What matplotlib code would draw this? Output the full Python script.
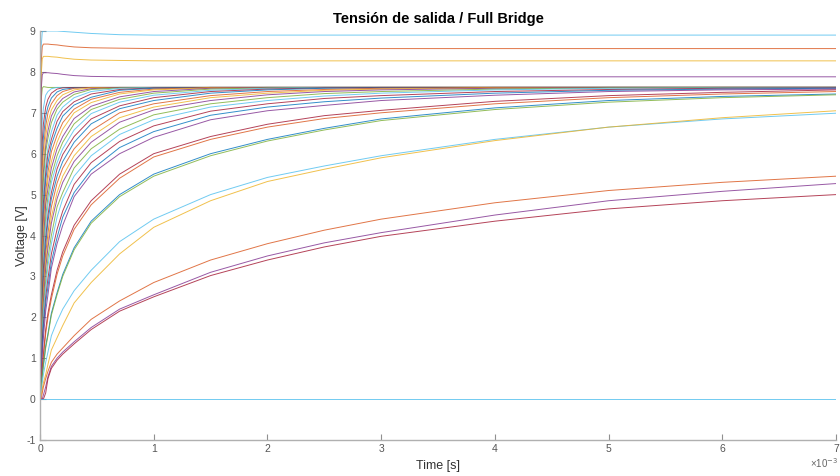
import numpy as np
import matplotlib
matplotlib.use("Agg")
import matplotlib.pyplot as plt

plt.rcParams['font.family'] = ['Liberation Sans', 'DejaVu Sans']
plt.rcParams['axes.unicode_minus'] = False

# MATLAB default colour order
C = ['#0072BD', '#D95319', '#EDB120', '#7E2F8E', '#77AC30', '#4DBEEE', '#A2142F']

# time samples (ms) shared by every trace
t_ms = [0, 0.01, 0.02, 0.03, 0.05, 0.07, 0.1, 0.15, 0.2, 0.3, 0.45, 0.7,
        1.0, 1.5, 2.0, 2.5, 3.0, 4.0, 5.0, 6.0, 7.0]

# the four traces that settle above the 7.6 V plateau
top_blue = [0, 8.60, 8.98, 9.00, 9.00, 9.00, 9.00, 9.00, 8.99, 8.97, 8.94, 8.91, 8.90, 8.90, 8.90, 8.90, 8.90, 8.90, 8.90, 8.90, 8.90]
top_orange = [0, 8.20, 8.62, 8.68, 8.68, 8.68, 8.67, 8.66, 8.64, 8.61, 8.59, 8.58, 8.57, 8.57, 8.57, 8.57, 8.57, 8.57, 8.57, 8.57, 8.57]
top_yellow = [0, 7.90, 8.32, 8.38, 8.38, 8.38, 8.37, 8.36, 8.34, 8.31, 8.29, 8.28, 8.27, 8.27, 8.27, 8.27, 8.27, 8.27, 8.27, 8.27, 8.27]
top_purple = [0, 7.55, 7.93, 7.98, 7.98, 7.98, 7.97, 7.96, 7.94, 7.91, 7.89, 7.88, 7.88, 7.88, 7.88, 7.88, 7.88, 7.88, 7.88, 7.88, 7.88]

# fast traces that all converge on ~7.62 V (fastest first)
fast_curves = [
    [0, 7.30, 7.60, 7.64, 7.63, 7.62, 7.62, 7.62, 7.62, 7.62, 7.62, 7.62, 7.62, 7.62, 7.62, 7.62, 7.62, 7.62, 7.62, 7.62, 7.62],
    [0, 6.05, 6.80, 7.12, 7.43, 7.52, 7.59, 7.62, 7.62, 7.62, 7.62, 7.62, 7.62, 7.62, 7.62, 7.62, 7.62, 7.62, 7.62, 7.62, 7.62],
    [0, 5.45, 6.30, 6.73, 7.14, 7.33, 7.48, 7.58, 7.61, 7.62, 7.62, 7.62, 7.62, 7.62, 7.62, 7.62, 7.62, 7.62, 7.62, 7.62, 7.62],
    [0, 5.00, 5.90, 6.40, 6.92, 7.15, 7.36, 7.51, 7.57, 7.61, 7.62, 7.62, 7.62, 7.62, 7.62, 7.62, 7.62, 7.62, 7.62, 7.62, 7.62],
    [0, 4.60, 5.65, 6.12, 6.67, 7.00, 7.22, 7.42, 7.52, 7.60, 7.62, 7.62, 7.62, 7.62, 7.62, 7.62, 7.62, 7.62, 7.62, 7.62, 7.62],
    [0, 4.30, 5.28, 5.80, 6.42, 6.77, 7.07, 7.30, 7.44, 7.56, 7.61, 7.62, 7.62, 7.62, 7.62, 7.62, 7.62, 7.62, 7.62, 7.62, 7.62],
    [0, 3.90, 5.00, 5.55, 6.18, 6.56, 6.92, 7.19, 7.35, 7.51, 7.59, 7.62, 7.62, 7.62, 7.62, 7.62, 7.62, 7.62, 7.62, 7.62, 7.62],
    [0, 3.65, 4.75, 5.35, 6.05, 6.38, 6.76, 7.09, 7.26, 7.45, 7.57, 7.61, 7.62, 7.62, 7.62, 7.62, 7.62, 7.62, 7.62, 7.62, 7.62],
    [0, 3.35, 4.45, 5.05, 5.72, 6.14, 6.54, 6.94, 7.14, 7.37, 7.52, 7.60, 7.62, 7.62, 7.62, 7.62, 7.62, 7.62, 7.62, 7.62, 7.62],
    [0, 3.10, 4.15, 4.80, 5.52, 6.00, 6.35, 6.79, 7.03, 7.27, 7.46, 7.57, 7.61, 7.62, 7.62, 7.62, 7.62, 7.62, 7.62, 7.62, 7.62],
    [0, 2.85, 3.90, 4.55, 5.35, 5.77, 6.22, 6.62, 6.92, 7.19, 7.38, 7.55, 7.60, 7.62, 7.62, 7.62, 7.62, 7.62, 7.62, 7.62, 7.62],
    [0, 2.55, 3.65, 4.35, 5.05, 5.55, 6.05, 6.45, 6.76, 7.09, 7.33, 7.50, 7.58, 7.62, 7.62, 7.62, 7.62, 7.62, 7.62, 7.62, 7.62],
    [0, 2.40, 3.45, 4.05, 4.85, 5.37, 5.81, 6.28, 6.60, 7.00, 7.25, 7.46, 7.56, 7.61, 7.62, 7.62, 7.62, 7.62, 7.62, 7.62, 7.62],
    [0, 2.25, 3.20, 3.85, 4.75, 5.15, 5.65, 6.12, 6.42, 6.86, 7.16, 7.39, 7.52, 7.60, 7.62, 7.62, 7.62, 7.62, 7.62, 7.62, 7.62],
    [0, 2.15, 2.95, 3.60, 4.45, 4.95, 5.45, 5.95, 6.28, 6.73, 7.08, 7.33, 7.48, 7.58, 7.61, 7.62, 7.62, 7.62, 7.62, 7.62, 7.62],
    [0, 1.95, 2.75, 3.40, 4.25, 4.75, 5.30, 5.78, 6.12, 6.58, 6.98, 7.26, 7.43, 7.55, 7.60, 7.62, 7.62, 7.62, 7.62, 7.62, 7.62],
    [0, 1.80, 2.55, 3.20, 3.95, 4.50, 5.05, 5.63, 5.98, 6.42, 6.85, 7.17, 7.37, 7.52, 7.58, 7.61, 7.62, 7.62, 7.62, 7.62, 7.62],
    [0, 1.60, 2.40, 2.95, 3.75, 4.35, 4.90, 5.45, 5.81, 6.28, 6.73, 7.10, 7.30, 7.48, 7.56, 7.60, 7.61, 7.62, 7.62, 7.62, 7.62],
    [0, 1.45, 2.25, 2.75, 3.55, 4.05, 4.70, 5.28, 5.65, 6.12, 6.56, 7.00, 7.22, 7.42, 7.52, 7.57, 7.60, 7.62, 7.62, 7.62, 7.62],
    [0, 1.30, 2.15, 2.55, 3.35, 3.85, 4.45, 5.05, 5.45, 5.95, 6.42, 6.88, 7.14, 7.37, 7.48, 7.55, 7.58, 7.61, 7.62, 7.62, 7.62],
    [0, 1.15, 1.95, 2.40, 3.20, 3.70, 4.30, 4.90, 5.30, 5.81, 6.28, 6.77, 7.07, 7.30, 7.44, 7.52, 7.56, 7.60, 7.62, 7.62, 7.62],
    [0, 1.00, 1.75, 2.25, 2.90, 3.45, 4.00, 4.70, 5.05, 5.65, 6.12, 6.60, 6.95, 7.22, 7.37, 7.47, 7.52, 7.58, 7.61, 7.62, 7.62],
    [0, 0.85, 1.60, 2.15, 2.70, 3.25, 3.80, 4.45, 4.90, 5.45, 5.95, 6.47, 6.83, 7.14, 7.30, 7.41, 7.48, 7.56, 7.60, 7.61, 7.62],
    [0, 0.80, 1.45, 1.85, 2.50, 2.95, 3.55, 4.15, 4.60, 5.25, 5.78, 6.30, 6.68, 7.04, 7.22, 7.35, 7.42, 7.52, 7.57, 7.60, 7.61],
    [0, 0.70, 1.25, 1.75, 2.35, 2.75, 3.35, 3.95, 4.45, 5.05, 5.60, 6.15, 6.54, 6.94, 7.14, 7.27, 7.36, 7.48, 7.55, 7.58, 7.60],
]

# slower traces, read one by one
slow_purple = [0, 0.60, 1.10, 1.50, 2.15, 2.55, 3.20, 3.80, 4.25, 4.95, 5.50, 6.00, 6.40, 6.83, 7.05, 7.18, 7.30, 7.43, 7.52, 7.56, 7.58]
slow_red = [0, 0.45, 0.80, 1.10, 1.70, 2.10, 2.55, 3.15, 3.60, 4.25, 4.85, 5.50, 6.00, 6.42, 6.72, 6.93, 7.06, 7.28, 7.42, 7.50, 7.56]
slow_orange = [0, 0.40, 0.75, 1.05, 1.60, 2.00, 2.45, 3.05, 3.50, 4.15, 4.75, 5.40, 5.92, 6.35, 6.65, 6.86, 7.00, 7.22, 7.37, 7.46, 7.52]
slow_blue = [0, 0.35, 0.60, 0.85, 1.30, 1.60, 2.10, 2.60, 3.05, 3.70, 4.35, 5.00, 5.50, 6.00, 6.35, 6.62, 6.85, 7.12, 7.30, 7.40, 7.46]
slow_green = [0, 0.30, 0.55, 0.80, 1.25, 1.55, 2.05, 2.55, 3.00, 3.65, 4.30, 4.95, 5.45, 5.95, 6.31, 6.58, 6.81, 7.08, 7.26, 7.37, 7.44]
slow_lightblue = [0, 0.20, 0.40, 0.60, 0.90, 1.15, 1.55, 1.90, 2.20, 2.65, 3.15, 3.85, 4.40, 5.00, 5.42, 5.70, 5.95, 6.35, 6.65, 6.85, 6.99]
slow_yellow = [0, 0.10, 0.25, 0.40, 0.60, 0.85, 1.20, 1.50, 1.80, 2.35, 2.85, 3.55, 4.20, 4.85, 5.32, 5.62, 5.90, 6.32, 6.65, 6.88, 7.05]
low_orange = [0, 0, 0.15, 0.30, 0.50, 0.68, 0.90, 1.10, 1.25, 1.55, 1.95, 2.40, 2.85, 3.40, 3.80, 4.13, 4.40, 4.80, 5.10, 5.30, 5.45]
low_purple = [0, 0, 0, 0.10, 0.30, 0.55, 0.80, 1.00, 1.15, 1.40, 1.75, 2.20, 2.55, 3.10, 3.50, 3.82, 4.07, 4.50, 4.85, 5.08, 5.27]
low_red = [0, 0, 0, 0, 0.15, 0.50, 0.75, 0.95, 1.10, 1.35, 1.70, 2.15, 2.50, 3.02, 3.40, 3.72, 3.98, 4.35, 4.65, 4.85, 5.00]
zero_line = [0.0] * len(t_ms)

x_ticks = [0, 1, 2, 3, 4, 5, 6, 7]
y_ticks = [-1, 0, 1, 2, 3, 4, 5, 6, 7, 8, 9]

fig = plt.figure(figsize=(8.4, 4.76), dpi=100)
ax = fig.add_axes([40 / 840, 36 / 476, 796 / 840, 409 / 476])

lw = 0.7
al = 0.8
for i, v in enumerate(fast_curves):
    ax.plot(t_ms, v, color=C[(i + 4) % 7], lw=lw, alpha=al)

named = [
    (slow_purple, C[3]), (slow_red, C[6]), (slow_orange, C[1]),
    (slow_blue, C[0]), (slow_green, C[4]), (slow_lightblue, C[5]),
    (slow_yellow, C[2]), (low_orange, C[1]), (low_purple, C[3]),
    (low_red, C[6]),
    (top_blue, C[5]), (top_orange, C[1]), (top_yellow, C[2]), (top_purple, C[3]),
    (zero_line, C[5]),
]
for v, c in named:
    ax.plot(t_ms, v, color=c, lw=lw, alpha=al)

ax.set_xlim(0, 7)
ax.set_ylim(-1, 9)
ax.set_xticks(x_ticks)
ax.set_yticks(y_ticks)
for s in ['top', 'right']:
    ax.spines[s].set_visible(False)
for s in ['left', 'bottom']:
    ax.spines[s].set_color('#b0b0b0')
    ax.spines[s].set_linewidth(1.0)
ax.tick_params(direction='in', length=4, width=0.8, color='#909090',
               labelcolor='#555555', labelsize=7.5, pad=3)

ax.set_title('Tensión de salida / Full Bridge', fontsize=10.5, fontweight='bold', pad=6)
ax.set_xlabel('Time [s]', fontsize=9, color='#333333', labelpad=4)
ax.set_ylabel('Voltage [V]', fontsize=9, color='#333333', labelpad=-1)
fig.text(838 / 840, 6 / 476, '×10$^{-3}$', fontsize=7, color='#666666', ha='right', va='bottom')

fig.savefig('out.png', dpi=100)
